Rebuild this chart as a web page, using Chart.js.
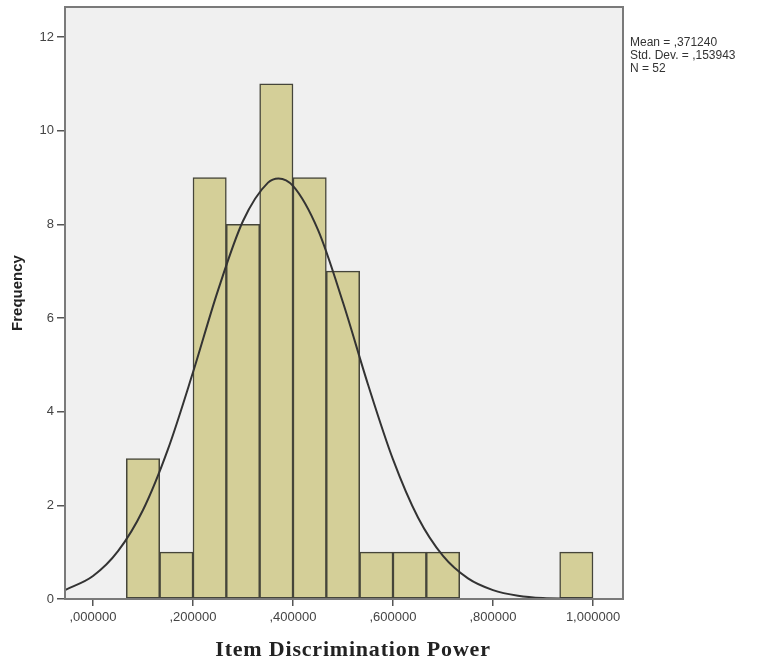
<!DOCTYPE html>
<html>
<head>
<meta charset="utf-8">
<script src="https://cdn.jsdelivr.net/npm/chart.js@4"></script>
<style>
  body { margin: 0; background: #fff; }
</style>
</head>
<body>
<canvas id="chart" width="762" height="664"></canvas>
<script>
"use strict";
///////////////////////////////
//Data
const binWidth = 1 / 15;
const binStarts = [0, 1/15, 2/15, 3/15, 4/15, 5/15, 6/15, 7/15, 8/15, 9/15, 10/15, 11/15, 12/15, 13/15, 14/15];
const binCounts = [0, 3, 1, 9, 8, 11, 9, 7, 1, 1, 1, 0, 0, 0, 1];

// normal curve
const curveX = [-0.056, 0, 0.05, 0.1, 0.15, 0.2, 0.25, 0.3, 0.35, 0.371, 0.4, 0.45, 0.5, 0.55, 0.6, 0.65, 0.7, 0.75, 0.8, 0.85, 0.9, 0.95, 1.0, 1.06];
const curveY = [0.19, 0.49, 1.02, 1.90, 3.20, 4.84, 6.59, 8.07, 8.89, 8.98, 8.82, 7.88, 6.33, 4.58, 2.98, 1.74, 0.92, 0.44, 0.19, 0.07, 0.02, 0.01, 0.0, 0.0];

const xTicks = [0, 0.2, 0.4, 0.6, 0.8, 1.0];
const yTicks = [0, 2, 4, 6, 8, 10, 12];
const statsLines = ["Mean = ,371240", "Std. Dev. = ,153943", "N = 52"];

//////////////////////////////
//Helpers
const commaLabel = function (v) {
  let s = v.toFixed(6).replace(".", ",");
  if (s.startsWith("0,")) s = s.slice(1);
  return s;
};

const barData = binStarts.map((s, i) => ({
  x: s + binWidth / 2,
  y: binCounts[i] > 0 ? binCounts[i] : null,
}));
const curveData = curveX.map((x, i) => ({ x: x, y: curveY[i] }));

// plot background, frame and extra text
const framePlugin = {
  id: "frame",
  beforeDatasetsDraw(chart) {
    const { ctx, chartArea: a } = chart;
    ctx.save();
    ctx.fillStyle = "#f0f0f0";
    ctx.fillRect(a.left, a.top, a.right - a.left, a.bottom - a.top);
    ctx.restore();
  },
  afterDraw(chart) {
    const { ctx, chartArea: a } = chart;
    ctx.save();
    ctx.strokeStyle = "#7a7a7a";
    ctx.lineWidth = 2;
    ctx.strokeRect(a.left, a.top, a.right - a.left, a.bottom - a.top);

    ctx.fillStyle = "#333";
    ctx.font = "12px Arial, 'Liberation Sans', sans-serif";
    ctx.textBaseline = "middle";
    ctx.textAlign = "left";
    statsLines.forEach((t, i) => ctx.fillText(t, 630, 43 + i * 13));

    // axis titles
    ctx.fillStyle = "#222";
    ctx.font = "bold 22px 'Times New Roman', 'Liberation Serif', serif";
    ctx.letterSpacing = "0.8px";
    ctx.textAlign = "center";
    ctx.fillText("Item Discrimination Power", 353, 650);
    ctx.letterSpacing = "0px";

    ctx.translate(18, 293);
    ctx.rotate(-Math.PI / 2);
    ctx.font = "bold 15px Arial, 'Liberation Sans', sans-serif";
    ctx.fillText("Frequency", 0, 0);
    ctx.restore();
  },
};

//////////////////////////////
//Chart
new Chart(document.getElementById("chart"), {
  type: "bar",
  data: {
    datasets: [
      {
        type: "line",
        data: curveData,
        borderColor: "#333",
        borderWidth: 2,
        pointRadius: 0,
        fill: false,
        cubicInterpolationMode: "monotone",
        order: 0,
      },
      {
        type: "bar",
        data: barData,
        backgroundColor: "#d4cf98",
        borderColor: "#45453a",
        borderWidth: 1.5,
        borderSkipped: false,
        barPercentage: 1,
        categoryPercentage: 1,
        order: 1,
      },
    ],
  },
  options: {
    responsive: false,
    animation: false,
    layout: { padding: { left: 0, right: 139, top: 7, bottom: 0 } },
    plugins: { legend: { display: false }, tooltip: { enabled: false } },
    scales: {
      x: {
        type: "linear",
        min: -0.056,
        max: 1.06,
        offset: false,
        afterFit: (scale) => {
          scale.height = 65;
          scale.paddingLeft = 0;
          scale.paddingRight = 0;
        },
        afterBuildTicks: (scale) => { scale.ticks = xTicks.map((v) => ({ value: v })); },
        grid: { offset: false, drawOnChartArea: false, drawTicks: true, tickLength: 7, color: "#555", lineWidth: 1.5 },
        border: { display: false },
        ticks: {
          padding: 4,
          color: "#444",
          font: { family: "Arial, 'Liberation Sans', sans-serif", size: 13 },
          maxRotation: 0,
          callback: (v) => commaLabel(v),
        },
      },
      y: {
        min: 0,
        max: 12.64,
        afterFit: (scale) => {
          scale.width = 65;
          scale.paddingTop = 0;
          scale.paddingBottom = 0;
        },
        afterBuildTicks: (scale) => { scale.ticks = yTicks.map((v) => ({ value: v })); },
        grid: { drawOnChartArea: false, drawTicks: true, tickLength: 8, color: "#555", lineWidth: 1.5 },
        border: { display: false },
        ticks: {
          padding: 3,
          color: "#444",
          font: { family: "Arial, 'Liberation Sans', sans-serif", size: 13 },
        },
      },
    },
  },
  plugins: [framePlugin],
});
</script>
</body>
</html>
